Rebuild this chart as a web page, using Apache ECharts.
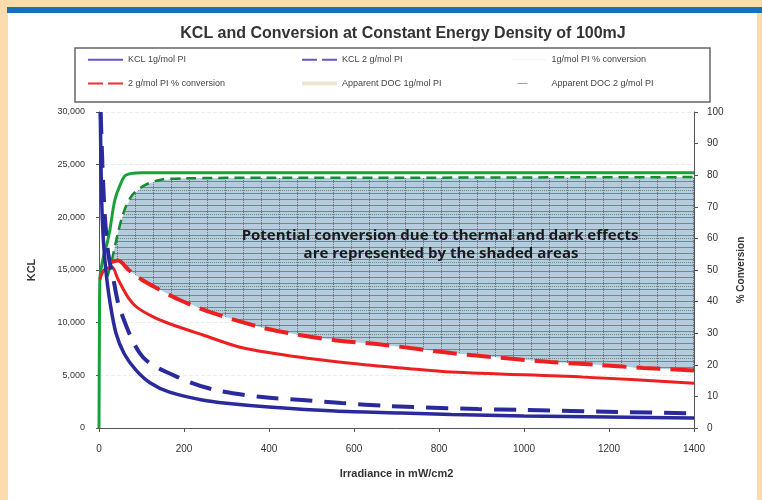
<!DOCTYPE html>
<html>
<head>
<meta charset="utf-8">
<script src="https://cdn.jsdelivr.net/npm/echarts@6/dist/echarts.min.js"></script>
<style>html,body{margin:0;padding:0;background:#fcdcae;}#c{width:762px;height:500px;}</style>
</head>
<body>
<div id="c"></div>
<script>
// ---- data ----
var xTicks = [0, 200, 400, 600, 800, 1000, 1200, 1400];
var kclTicks = [0, 5000, 10000, 15000, 20000, 25000, 30000];
var convTicks = [0, 10, 20, 30, 40, 50, 60, 70, 80, 90, 100];

// KCL 1 g/mol PI (left axis)
var irrKcl1 = [3, 6, 10, 16, 26, 40, 60, 87, 120, 166, 243, 300, 400, 555, 712, 829, 1000, 1200, 1400];
var kcl1    = [30000, 22000, 18000, 15000, 11900, 9000, 7000, 5500, 4300, 3400, 2660, 2350, 1990, 1610, 1420, 1280, 1150, 1040, 950];
// KCL 2 g/mol PI (left axis)
var irrKcl2 = [4, 8, 14, 22, 33, 50, 103, 190, 274, 384, 478, 571, 681, 892, 1000, 1220, 1400];
var kcl2    = [30000, 25000, 20000, 16500, 14300, 11200, 6740, 4750, 3600, 2940, 2660, 2370, 2090, 1800, 1710, 1520, 1400];
// 1 g/mol PI % conversion (right axis)
var irrConv1 = [2, 12, 30, 45, 70, 91, 130, 166, 243, 337, 478, 634, 712, 829, 1140, 1400];
var conv1    = [47, 50, 51, 47, 41, 38, 35, 33, 29.5, 25.4, 22.3, 19.9, 19, 17.7, 16.1, 14.2];
// 2 g/mol PI % conversion (right axis)
var irrConv2 = [30, 45, 70, 100, 131, 190, 267, 377, 447, 555, 672, 829, 946, 1063, 1180, 1281, 1400];
var conv2    = [52.5, 53, 50, 47, 44.6, 40.5, 36.4, 32, 30, 27.8, 26.3, 23.7, 22.2, 20.9, 19.9, 19, 18.2];
// Apparent DOC 1 g/mol PI (right axis)
var irrDoc1 = [0, 1, 2, 10, 20, 26, 37, 50, 63, 100, 300, 600, 900, 1200, 1400];
var doc1    = [0, 30, 47, 54, 59, 63, 72, 77, 80, 80.8, 80.8, 80.8, 80.8, 80.8, 80.8];
// Apparent DOC 2 g/mol PI (right axis)
var irrDoc2 = [20, 30, 45, 60, 80, 110, 143, 200, 400, 700, 1000, 1400];
var doc2    = [48, 53, 62, 69, 74, 77, 78.5, 79, 79.2, 79.2, 79.3, 79.4];

var names = ['KCL 1g/mol PI', 'KCL 2 g/mol PI', '1g/mol PI % conversion',
             '2 g/mol PI % conversion', 'Apparent DOC 1g/mol PI', 'Apparent DOC 2 g/mol PI'];

function pairs(xs, ys) { return xs.map(function (x, i) { return [x, ys[i]]; }); }

// hatched pattern for the shaded area
var pc = document.createElement('canvas');
pc.width = 18; pc.height = 24;
var g = pc.getContext('2d');
g.fillStyle = '#b3cddd'; g.fillRect(0, 0, 18, 24);
g.fillStyle = 'rgba(232,80,84,0.95)';
[1, 7, 13, 19].forEach(function (y) { g.fillRect(0, y, 18, 1); });
g.fillStyle = 'rgba(30,30,30,0.5)';
for (var yy = 0; yy < 24; yy += 2) g.fillRect(9, yy, 1, 1);
g.fillStyle = 'rgba(30,30,30,0.4)';
for (var xx = 0; xx < 18; xx += 2) g.fillRect(xx, 22, 1, 1);
var pattern = { image: pc, repeat: 'repeat' };

var chart = echarts.init(document.getElementById('c'), null, { renderer: 'canvas' });

var legendBase = {
  top: 55, orient: 'vertical', padding: 0, itemGap: 14, itemWidth: 35, itemHeight: 12,
  textStyle: { fontSize: 9, color: '#444' },
  itemStyle: { color: 'rgba(0,0,0,0)', borderColor: 'rgba(0,0,0,0)', borderWidth: 0 }
};
function legendAt(left, data) { return Object.assign({}, legendBase, { left: left, data: data }); }

chart.setOption({
  backgroundColor: '#fcdcae',
  animation: false,
  textStyle: { fontFamily: 'Liberation Sans, Arial, sans-serif' },
  title: {
    text: 'KCL and Conversion at Constant Energy Density of 100mJ',
    left: 398, top: 21, textAlign: 'center',
    textStyle: { fontSize: 16, fontWeight: 'bold', color: '#333', fontFamily: 'Liberation Sans, Arial, sans-serif' }
  },
  graphic: [
    { type: 'rect', z: -10, shape: { x: 8, y: 13, width: 749, height: 487 }, style: { fill: '#ffffff' } },
    { type: 'rect', z: -9, shape: { x: 7, y: 7, width: 755, height: 6 }, style: { fill: '#1570be' } },
    { type: 'rect', z: -8, shape: { x: 75, y: 48, width: 635, height: 54 }, style: { fill: '#ffffff', stroke: '#666', lineWidth: 1.5 } },
    { type: 'text', z: 100, x: 440, y: 236, style: { text: 'Potential conversion due to thermal and dark effects', fill: '#1a1a1a', font: 'bold 15px "Open Sans", sans-serif', textAlign: 'center', textVerticalAlign: 'middle' } },
    { type: 'text', z: 100, x: 441, y: 254, style: { text: 'are represented by the shaded areas', fill: '#1a1a1a', font: 'bold 15px "Open Sans", sans-serif', textAlign: 'center', textVerticalAlign: 'middle' } }
  ],
  legend: [
    legendAt(87, [
      { name: names[0], lineStyle: { color: '#6655c8', width: 2, type: 'solid' } },
      { name: names[3], lineStyle: { color: '#ee3030', width: 2, type: [15, 5] } } ]),
    legendAt(300, [
      { name: names[1], lineStyle: { color: '#6655c8', width: 2, type: [15, 5] } },
      { name: names[4], lineStyle: { color: '#ece5d2', width: 4, type: 'solid' } } ]),
    legendAt(511, [
      { name: names[2], lineStyle: { color: '#f3f3f3', width: 1, type: 'solid' } },
      { name: names[5], lineStyle: { color: '#999', width: 1, type: [10, 40], dashOffset: -6 } } ])
  ],
  grid: { left: 99, right: 68, top: 112, bottom: 72 },
  xAxis: {
    type: 'value', min: 0, max: 1400, interval: 200,
    axisLine: { lineStyle: { color: '#555' } },
    axisTick: { show: true, length: 4, lineStyle: { color: '#555' } },
    axisLabel: { fontSize: 10, color: '#333', margin: 16,
      formatter: function (v) { return xTicks.indexOf(v) >= 0 ? String(v) : ''; } },
    splitLine: { show: false },
    name: 'Irradiance in mW/cm2', nameLocation: 'middle', nameGap: 40,
    nameTextStyle: { fontSize: 11, fontWeight: 'bold', color: '#333' }
  },
  yAxis: [
    { type: 'value', min: 0, max: 30000, interval: 5000, position: 'left',
      axisLine: { show: true, lineStyle: { color: '#555' } },
      axisTick: { show: true, length: 3, lineStyle: { color: '#555' } },
      axisLabel: { fontSize: 9, color: '#333', margin: 14,
        formatter: function (v) { return kclTicks.indexOf(v) >= 0 ? v.toLocaleString('en-US') : ''; } },
      splitLine: { show: true, lineStyle: { color: '#ececec', type: 'dashed' } },
      name: 'KCL', nameLocation: 'middle', nameGap: 62, nameRotate: 90,
      nameTextStyle: { fontSize: 11, fontWeight: 'bold', color: '#333' } },
    { type: 'value', min: 0, max: 100, interval: 10, position: 'right',
      axisLine: { show: true, lineStyle: { color: '#555' } },
      axisTick: { show: true, length: 4, lineStyle: { color: '#555' } },
      axisLabel: { fontSize: 10, color: '#333', margin: 13,
        formatter: function (v) { return convTicks.indexOf(v) >= 0 ? String(v) : ''; } },
      splitLine: { show: false },
      name: '% Conversion', nameLocation: 'middle', nameGap: 42, nameRotate: 90,
      nameTextStyle: { fontSize: 10, fontWeight: 'bold', color: '#333' } }
  ],
  series: [
    { type: 'custom', name: 'shade', xAxisIndex: 0, yAxisIndex: 1, silent: true, z: 1, clip: true,
      data: [[0, 0]],
      renderItem: function (params, api) {
        var pts = [];
        for (var i = 0; i < irrDoc2.length; i++) {
          if (irrDoc2[i] >= irrConv2[0]) pts.push(api.coord([irrDoc2[i], doc2[i]]));
        }
        for (var j = irrConv2.length - 1; j >= 0; j--) pts.push(api.coord([irrConv2[j], conv2[j]]));
        return { type: 'polygon', shape: { points: pts }, style: { fill: pattern, stroke: null } };
      } },
    { type: 'line', name: names[0], yAxisIndex: 0, symbol: 'none', smooth: 0.3, z: 5,
      data: pairs(irrKcl1, kcl1), lineStyle: { color: '#2a2a9c', width: 3.5 }, itemStyle: { color: '#6a5acd' } },
    { type: 'line', name: names[1], yAxisIndex: 0, symbol: 'none', smooth: 0.3, z: 5,
      data: pairs(irrKcl2, kcl2), lineStyle: { color: '#2a2a9c', width: 4, type: [22, 12] }, itemStyle: { color: '#6a5acd' } },
    { type: 'line', name: names[2], yAxisIndex: 1, symbol: 'none', smooth: 0.3, z: 4,
      data: pairs(irrConv1, conv1), lineStyle: { color: '#ec2020', width: 3 }, itemStyle: { color: '#ec2020' } },
    { type: 'line', name: names[3], yAxisIndex: 1, symbol: 'none', smooth: 0.3, z: 4,
      data: pairs(irrConv2, conv2), lineStyle: { color: '#ec2020', width: 4, type: [24, 10] }, itemStyle: { color: '#ec2020' } },
    { type: 'line', name: names[4], yAxisIndex: 1, symbol: 'none', smooth: 0.3, z: 3,
      data: pairs(irrDoc1, doc1), lineStyle: { color: '#18a03a', width: 3 }, itemStyle: { color: '#18a03a' } },
    { type: 'line', name: names[5], yAxisIndex: 1, symbol: 'none', smooth: 0.3, z: 3,
      data: pairs(irrDoc2, doc2), lineStyle: { color: '#168a32', width: 2.5, type: [10, 6] }, itemStyle: { color: '#168a32' } }
  ]
});
</script>
</body>
</html>
